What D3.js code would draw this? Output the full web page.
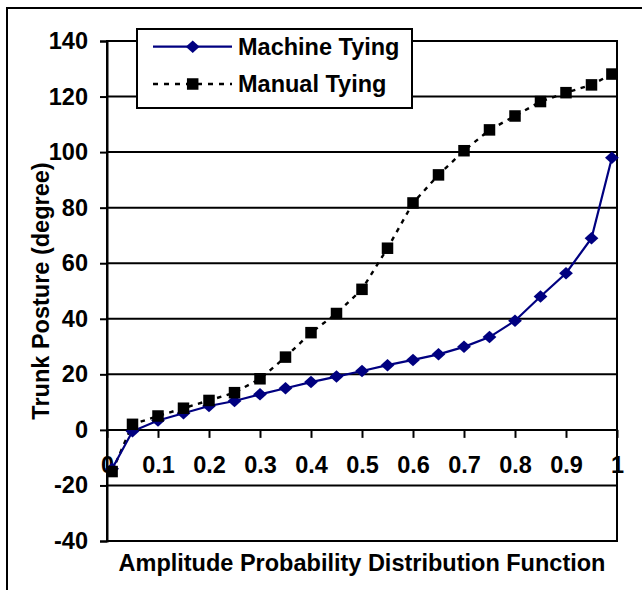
<!DOCTYPE html>
<html><head><meta charset="utf-8">
<script src="https://cdn.jsdelivr.net/npm/d3@7"></script>
<style>
body{margin:0;background:#fff;}
svg{display:block;}
text{font-family:"Liberation Sans",Arial,sans-serif;font-weight:bold;fill:#000;}
</style></head>
<body>
<script>
const apdf = [0.01,0.05,0.1,0.15,0.2,0.25,0.3,0.35,0.4,0.45,0.5,0.55,0.6,0.65,0.7,0.75,0.8,0.85,0.9,0.95,0.99];
const machineTying = [-14,-0.5,3.4,6.0,8.6,10.4,12.8,15.0,17.2,19.2,21.2,23.3,25.2,27.2,29.9,33.4,39.3,48.0,56.4,69.0,98.0];
const manualTying = [-15,2.0,5.0,7.8,10.6,13.4,18.4,26.2,35.0,41.9,50.6,65.4,81.7,91.8,100.5,108,113,118.2,121.4,124.2,128.1];
const xTicks = [0,0.1,0.2,0.3,0.4,0.5,0.6,0.7,0.8,0.9,1];
const yTicks = [-40,-20,0,20,40,60,80,100,120,140];
const seriesNames = ["Machine Tying","Manual Tying"];
const xTitle = "Amplitude Probability Distribution Function";
const yTitle = "Trunk Posture (degree)";

const FS=23.5;
const W=642,H=590;
const svg=d3.select("body").append("svg").attr("width",W).attr("height",H);
const L=107,R=617,T=41,B=541;
const x=d3.scaleLinear().domain([0,1]).range([L,R]);
const y=d3.scaleLinear().domain([-40,140]).range([B,T]);

svg.append("rect").attr("x",7).attr("y",8).attr("width",700).attr("height",700)
  .attr("fill","none").attr("stroke","#000").attr("stroke-width",2);

svg.append("g").selectAll("line").data(yTicks).join("line")
  .attr("x1",L).attr("x2",R).attr("y1",d=>y(d)).attr("y2",d=>y(d))
  .attr("stroke","#000").attr("stroke-width",2);

svg.append("rect").attr("x",L).attr("y",T).attr("width",R-L).attr("height",B-T)
  .attr("fill","none").attr("stroke","#000").attr("stroke-width",2);

const yAxis=d3.axisLeft(y).tickValues(yTicks).tickSize(7).tickPadding(12).tickFormat(d=>String(d));
const gy=svg.append("g").attr("transform",`translate(${L},0)`).call(yAxis);
gy.select(".domain").attr("stroke","#000").attr("stroke-width",2);
gy.selectAll(".tick line").attr("stroke","#000").attr("stroke-width",2);
gy.selectAll(".tick text").attr("font-size",FS).attr("font-family","Liberation Sans, Arial, sans-serif").attr("font-weight","bold").attr("fill","#000");

const xAxis=d3.axisBottom(x).tickValues(xTicks).tickSize(8).tickPadding(18).tickFormat(d=>String(d));
const gx=svg.append("g").attr("transform",`translate(0,${y(0)})`).call(xAxis);
gx.select(".domain").remove();
gx.selectAll(".tick line").attr("stroke","#000").attr("stroke-width",2);
gx.selectAll(".tick text").attr("font-size",FS).attr("font-family","Liberation Sans, Arial, sans-serif").attr("font-weight","bold").attr("fill","#000");

const line=d3.line().x(d=>x(d[0])).y(d=>y(d[1]));
const manData=apdf.map((p,i)=>[p,manualTying[i]]);
const macData=apdf.map((p,i)=>[p,machineTying[i]]);

svg.append("path").datum(manData).attr("d",line).attr("fill","none")
  .attr("stroke","#000").attr("stroke-width",2.4).attr("stroke-dasharray","4.5,5.5");
svg.append("path").datum(macData).attr("d",line).attr("fill","none")
  .attr("stroke","#000080").attr("stroke-width",2.2);

const diamond=d3.symbol().type(d3.symbolDiamond2).size(100);
svg.append("g").selectAll("path").data(macData).join("path")
  .attr("d",diamond).attr("transform",d=>`translate(${x(d[0])},${y(d[1])}) scale(1.1,1)`)
  .attr("fill","#000080");
svg.append("g").selectAll("rect").data(manData).join("rect")
  .attr("x",d=>x(d[0])-5.75).attr("y",d=>y(d[1])-5.75).attr("width",11.5).attr("height",11.5)
  .attr("fill","#000");

const lg=svg.append("g");
lg.append("rect").attr("x",137).attr("y",29).attr("width",275).attr("height",79)
  .attr("fill","#fff").attr("stroke","#000").attr("stroke-width",2);
const rows=[46.7,84];
lg.append("line").attr("x1",153).attr("x2",232).attr("y1",rows[0]).attr("y2",rows[0])
  .attr("stroke","#000080").attr("stroke-width",2.2);
lg.append("path").attr("d",diamond).attr("transform",`translate(192.7,${rows[0]}) scale(1.1,1)`).attr("fill","#000080");
lg.append("line").attr("x1",153).attr("x2",232).attr("y1",rows[1]).attr("y2",rows[1])
  .attr("stroke","#000").attr("stroke-width",2.4).attr("stroke-dasharray","5,6");
lg.append("rect").attr("x",192.7-5.75).attr("y",rows[1]-5.75).attr("width",11.5).attr("height",11.5).attr("fill","#000");
lg.selectAll("text.lab").data(seriesNames).join("text").attr("class","lab")
  .attr("x",238).attr("y",(d,i)=>rows[i]).attr("dy","0.36em").attr("font-size",FS).text(d=>d);

svg.append("text").attr("x",(L+R)/2).attr("y",571).attr("text-anchor","middle")
  .attr("font-size",FS).text(xTitle);
svg.append("text").attr("transform",`translate(49,${(T+B)/2}) rotate(-90)`)
  .attr("text-anchor","middle").attr("font-size",FS).text(yTitle);
</script>
</body></html>
